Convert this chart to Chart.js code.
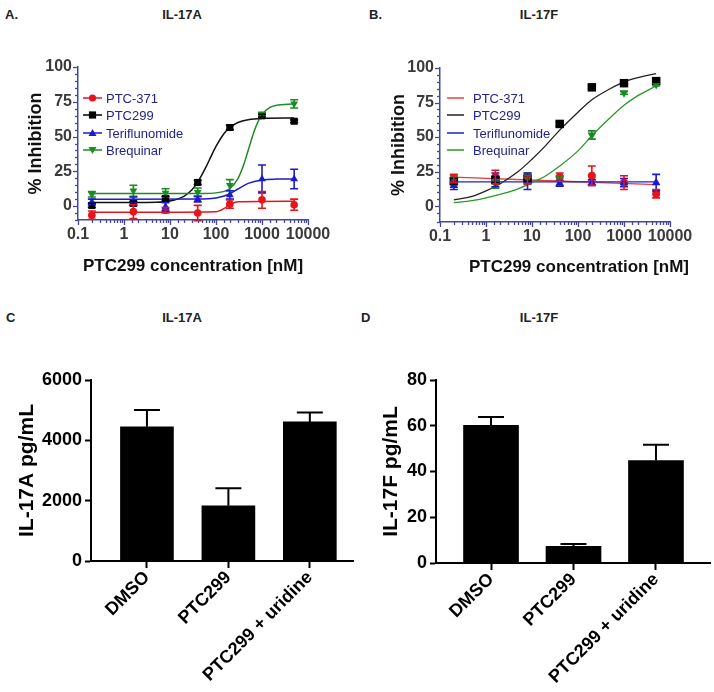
<!DOCTYPE html>
<html><head><meta charset="utf-8">
<script src="https://cdn.jsdelivr.net/npm/chart.js@4.4.0/dist/chart.umd.min.js"></script>
<style>
body{margin:0;background:#fff;width:714px;height:692px;overflow:hidden;position:relative;font-family:"Liberation Sans",Arial,sans-serif;}
canvas{position:absolute;}
.lbl{position:absolute;font-weight:bold;color:#222;white-space:nowrap;font-size:13px;line-height:16px;}
.ctr{transform:translateX(-50%);}
.leg{position:absolute;height:16px;display:flex;align-items:center;font-size:13px;color:#23238c;white-space:nowrap;}
.xt{position:absolute;font-weight:bold;font-size:17px;color:#111;white-space:nowrap;transform:translate(-50%,-50%);}
</style></head><body>

<div class="lbl" style="left:5px;top:7px;">A.</div>
<div class="lbl ctr" style="left:182px;top:7px;">IL-17A</div>
<div class="lbl" style="left:369px;top:7px;">B.</div>
<div class="lbl ctr" style="left:539px;top:7px;">IL-17F</div>
<div class="lbl" style="left:6px;top:310px;">C</div>
<div class="lbl ctr" style="left:182px;top:310px;">IL-17A</div>
<div class="lbl" style="left:361px;top:310px;">D</div>
<div class="lbl ctr" style="left:539px;top:310px;">IL-17F</div>

<canvas id="cA" width="357" height="300" style="left:0;top:0"></canvas>
<canvas id="cB" width="357" height="300" style="left:357px;top:0"></canvas>
<canvas id="cC" width="357" height="362" style="left:0;top:330px"></canvas>
<canvas id="cD" width="357" height="362" style="left:357px;top:330px"></canvas>
<div id="legA"></div><div id="legB"></div>
<div class="xt" style="left:579px;top:267px;">PTC299 concentration [nM]</div>

<script>
// ---------- DATA ----------
const doses = [0.2, 1.6, 8, 40, 200, 1000, 5000];
const seriesNames = ['PTC-371', 'PTC299', 'Teriflunomide', 'Brequinar'];
const percentTicks = [0, 25, 50, 75, 100];

// Panel A (IL-17A) measured points and SEM
const aPTC371 = [-6.5, -4, -3, -5, 1.4, 4.5, 1];
const aPTC371Err = [3, 5, 2, 5.5, 3, 6, 4];
const aPTC299 = [0.5, 2, 5.5, 17, 56.5, 65, 61];
const aPTC299Err = [1.5, 1.5, 1.5, 1.5, 1.5, 1, 1];
const aTeri = [3, 3.5, -0.5, 5, 8, 19.5, 19.5];
const aTeriErr = [2, 3, 3, 2, 3, 10, 7];
const aBreq = [8.5, 11, 9.5, 10, 15, 66, 73.5];
const aBreqErr = [2, 4, 3, 3, 4, 1.5, 3];

// Panel A fitted curves
const aFitPTC371X = [0.2, 100, 130, 150, 170, 190, 220, 300, 5000];
const aFitPTC371Y = [-4.5, -4, -2.8, -1.7, -0.5, 0.6, 1.8, 3.1, 3.5];
const aFitPTC299X = [0.2, 5, 10, 20, 30, 40, 60, 80, 100, 150, 200, 300, 500, 1000, 5000];
const aFitPTC299Y = [2.5, 2.8, 3.7, 7, 11.7, 17.2, 27.8, 36.5, 42.9, 52.2, 56.5, 60.1, 62.1, 63, 63.3];
const aFitTeriX = [0.2, 50, 100, 150, 200, 300, 500, 1000, 2000, 5000];
const aFitTeriY = [5, 5.1, 5.9, 7.2, 8.9, 12.3, 16.3, 18.8, 19.4, 19.5];
const aFitBreqX = [0.2, 50, 100, 150, 200, 300, 400, 500, 700, 1000, 1500, 2000, 5000];
const aFitBreqY = [9, 9.1, 9.5, 10.6, 12.6, 19.8, 29.7, 40, 55.3, 65.8, 71, 72.4, 73.5];

// Panel B (IL-17F) measured points and SEM
const bPTC371 = [20, 21, 19, 21, 22, 17, 9];
const bPTC371Err = [3, 5, 3, 3, 7, 5, 3];
const bPTC299 = [18, 19, 20, 59.5, 86, 89, 90.5];
const bPTC299Err = [2, 2, 2, 1.5, 1, 1, 1];
const bTeri = [15, 19, 18, 16.5, 17, 17, 17];
const bTeriErr = [3, 5, 6, 2, 2, 3, 6];
const bBreq = [19, 16, 20, 20, 51.5, 82, 88];
const bBreqErr = [3, 3, 4, 2, 3, 1, 1];

// Panel B fitted curves
const bFitPTC371X = [0.2, 5000];
const bFitPTC371Y = [21, 15.5];
const bFitPTC299X = [0.2, 0.5, 1, 2, 5, 10, 20, 40, 100, 200, 500, 1000, 2000, 5000];
const bFitPTC299Y = [4.5, 7, 11, 16, 25, 34, 44, 55, 68, 77, 85, 90, 93, 96];
const bFitTeriX = [0.2, 5000];
const bFitTeriY = [17.5, 17.5];
const bFitBreqX = [0.2, 0.5, 1, 2, 5, 10, 20, 40, 100, 200, 500, 1000, 2000, 5000];
const bFitBreqY = [2.5, 4, 6, 8.5, 12.5, 17, 22, 29, 40, 51, 64, 73, 80, 87];

// Panels C and D
const barCats = ['DMSO', 'PTC299', 'PTC299 + uridine'];
const il17a = [4450, 1830, 4610];
const il17aErr = [555, 580, 310];
const il17aTicks = [0, 2000, 4000, 6000];
const il17f = [60.2, 7.3, 44.8];
const il17fErr = [3.6, 1.0, 6.9];
const il17fTicks = [0, 20, 40, 60, 80];

// ---------- HELPERS ----------
const FAM = '"Liberation Sans", Arial, sans-serif';
Chart.defaults.font.family = FAM;
const pts = (xs, ys) => xs.map((x, i) => ({x: x, y: ys[i]}));

const errorBarPlugin = {
  id: 'errbars',
  afterDatasetsDraw(chart) {
    const ctx = chart.ctx;
    chart.data.datasets.forEach((ds, i) => {
      if (!ds.errors) return;
      const meta = chart.getDatasetMeta(i);
      const ys = chart.scales[meta.yAxisID];
      ctx.save();
      ctx.strokeStyle = ds.errorColor || ds.borderColor;
      ctx.lineWidth = ds.errorWidth || 1.5;
      meta.data.forEach((el, j) => {
        const d = ds.data[j];
        const v = typeof d === 'object' ? d.y : d;
        const e = ds.errors[j];
        const x = el.x;
        const yT = ys.getPixelForValue(v + e);
        const yB = ds.upOnly ? ys.getPixelForValue(v) : ys.getPixelForValue(v - e);
        const hw = (ds.capWidth || 8) / 2;
        ctx.beginPath();
        ctx.moveTo(x, yB); ctx.lineTo(x, yT);
        ctx.moveTo(x - hw, yT); ctx.lineTo(x + hw, yT);
        if (!ds.upOnly) { ctx.moveTo(x - hw, yB); ctx.lineTo(x + hw, yB); }
        ctx.stroke();
      });
      ctx.restore();
    });
  }
};

const axisTickPlugin = {
  id: 'axisTicks',
  afterDraw(chart, args, o) {
    if (!o || !o.enabled) return;
    const ctx = chart.ctx, ca = chart.chartArea;
    const xs = chart.scales.x, ys = chart.scales.y;
    ctx.save();
    ctx.strokeStyle = o.color; ctx.lineWidth = o.width;
    xs.ticks.forEach(t => {
      const lg = Math.log10(t.value);
      const major = Math.abs(lg - Math.round(lg)) < 1e-6;
      const px = Math.round(xs.getPixelForValue(t.value)) + 0.5;
      ctx.beginPath(); ctx.moveTo(px, ca.bottom); ctx.lineTo(px, ca.bottom + (major ? o.major : o.minor)); ctx.stroke();
    });
    ys.ticks.forEach(t => {
      const major = percentTicks.includes(t.value);
      const py = Math.round(ys.getPixelForValue(t.value)) + 0.5;
      ctx.beginPath(); ctx.moveTo(ca.left, py); ctx.lineTo(ca.left - (major ? o.major : o.minor), py); ctx.stroke();
    });
    ctx.restore();
  }
};

const COL = {red: '#e8141c', black: '#000000', blue: '#1c1cc8', green: '#1b8c22'};
const AXC = '#4646a8';

function doseChart(id, cfg) {
  const sets = [];
  const ser = [
    {name: seriesNames[3], col: COL.green, y: cfg.breq, e: cfg.breqE, style: 'triangle', rot: 180, r: cfg.r.tri},
    {name: seriesNames[2], col: COL.blue, y: cfg.teri, e: cfg.teriE, style: 'triangle', rot: 0, r: cfg.r.tri},
    {name: seriesNames[1], col: COL.black, y: cfg.ptc299, e: cfg.ptc299E, style: 'rect', rot: 0, r: cfg.r.sq},
    {name: seriesNames[0], col: COL.red, y: cfg.ptc371, e: cfg.ptc371E, style: 'circle', rot: 0, r: cfg.r.ci}
  ];
  ser.forEach(s => sets.push({
    label: s.name, data: pts(doses, s.y), showLine: false,
    pointStyle: s.style, pointRotation: s.rot, pointRadius: s.r,
    backgroundColor: s.col, borderColor: s.col, pointBorderWidth: 0,
    errors: s.e, capWidth: 8, errorWidth: 1.6
  }));
  cfg.fits.forEach(f => sets.push({
    label: f.name + ' fit', data: pts(f.x, f.y), showLine: true, pointRadius: 0,
    borderColor: f.col, borderWidth: cfg.fitWidth, cubicInterpolationMode: 'monotone', fill: false
  }));
  return new Chart(document.getElementById(id), {
    type: 'scatter',
    data: {datasets: sets},
    options: {
      responsive: false, animation: false, devicePixelRatio: 1,
      layout: {padding: {top: cfg.top, right: cfg.right, left: 0, bottom: 0}},
      plugins: {legend: {display: false}, tooltip: {enabled: false},
        axisTicks: {enabled: true, color: AXC, width: 1.3, major: 5, minor: 3}},
      scales: {
        x: {
          type: 'logarithmic', min: 0.1, max: 10000,
          afterFit: s => { s.height = cfg.xh; },
          ticks: {autoSkip: false, maxRotation: 0, minRotation: 0, padding: 0, color: '#3a3a3a',
            font: {size: 16, weight: 'bold'},
            callback: v => { const l = Math.log10(v); return Math.abs(l - Math.round(l)) < 1e-6 ? String(v) : ''; }},
          grid: {display: false, drawTicks: true, tickLength: 5},
          border: {display: true, color: AXC, width: 1.5},
          title: {display: cfg.xTitle, text: 'PTC299 concentration [nM]', color: '#111',
            font: {size: 17, weight: 'bold'}, padding: {top: 0, bottom: 23}}
        },
        y: {
          min: cfg.ymin, max: 100,
          afterFit: s => { s.width = cfg.yw; },
          ticks: {stepSize: 5, autoSkip: false, padding: 1, color: '#3a3a3a', font: {size: 16, weight: 'bold'},
            callback: v => percentTicks.includes(v) ? String(v) : ''},
          grid: {display: false, drawTicks: true, tickLength: 5},
          border: {display: true, color: AXC, width: 1.5},
          title: {display: true, text: '% Inhibition', color: '#111',
            font: {size: 18, weight: 'bold'}, padding: {top: cfg.ytp, bottom: 0}}
        }
      }
    },
    plugins: [errorBarPlugin, axisTickPlugin]
  });
}

doseChart('cA', {
  top: 67, right: 49, xh: 80, yw: 78, ymin: -10, ytp: 25, xTitle: true, fitWidth: 1.5,
  r: {tri: 4.5, sq: 5, ci: 3.8},
  ptc371: aPTC371, ptc371E: aPTC371Err, ptc299: aPTC299, ptc299E: aPTC299Err,
  teri: aTeri, teriE: aTeriErr, breq: aBreq, breqE: aBreqErr,
  fits: [
    {name: seriesNames[3], col: COL.green, x: aFitBreqX, y: aFitBreqY},
    {name: seriesNames[2], col: COL.blue, x: aFitTeriX, y: aFitTeriY},
    {name: seriesNames[1], col: '#111', x: aFitPTC299X, y: aFitPTC299Y},
    {name: seriesNames[0], col: COL.red, x: aFitPTC371X, y: aFitPTC371Y}
  ]
});

doseChart('cB', {
  top: 68, right: 44, xh: 78, yw: 83, ymin: -11.5, ytp: 31, xTitle: false, fitWidth: 1.3,
  r: {tri: 5, sq: 6, ci: 4},
  ptc371: bPTC371, ptc371E: bPTC371Err, ptc299: bPTC299, ptc299E: bPTC299Err,
  teri: bTeri, teriE: bTeriErr, breq: bBreq, breqE: bBreqErr,
  fits: [
    {name: seriesNames[3], col: '#2a9a2a', x: bFitBreqX, y: bFitBreqY},
    {name: seriesNames[2], col: '#2020c8', x: bFitTeriX, y: bFitTeriY},
    {name: seriesNames[1], col: '#222', x: bFitPTC299X, y: bFitPTC299Y},
    {name: seriesNames[0], col: '#e84040', x: bFitPTC371X, y: bFitPTC371Y}
  ]
});

function barChart(id, cfg) {
  return new Chart(document.getElementById(id), {
    type: 'bar',
    data: {datasets: [{
      label: cfg.title, data: cfg.vals.map((v, i) => ({x: i, y: v})),
      backgroundColor: '#000', borderWidth: 0, barThickness: cfg.bw,
      errors: cfg.errs, upOnly: true, capWidth: 26, errorWidth: 2, errorColor: '#000'
    }]},
    options: {
      responsive: false, animation: false, devicePixelRatio: 1,
      layout: {padding: {top: 50, right: 4, left: 0, bottom: 0}},
      plugins: {legend: {display: false}, tooltip: {enabled: false}},
      scales: {
        x: {
          type: 'linear', min: cfg.xmin, max: cfg.xmax, offset: false,
          afterBuildTicks: s => { s.ticks = barCats.map((c, i) => ({value: i})); },
          afterFit: s => { s.height = cfg.xh; },
          ticks: {autoSkip: false, minRotation: 45, maxRotation: 45, padding: -1, color: '#000',
            font: {size: 18, weight: 'bold'}, callback: v => barCats[v]},
          grid: {display: true, drawOnChartArea: false, offset: false, tickLength: 7, tickWidth: 2, tickColor: '#000'},
          border: {display: true, color: '#000', width: 2}
        },
        y: {
          min: 0, max: cfg.ymax,
          afterBuildTicks: s => { s.ticks = cfg.ticks.map(v => ({value: v})); },
          afterFit: s => { s.width = cfg.yw; },
          ticks: {padding: 3, color: '#000', font: {size: 18, weight: 'bold'}, callback: v => String(v)},
          grid: {display: true, drawOnChartArea: false, tickLength: 6, tickWidth: 2, tickColor: '#000'},
          border: {display: true, color: '#000', width: 2},
          title: {display: true, text: cfg.title, color: '#000', font: {size: 21, weight: 'bold'},
            padding: {top: cfg.ytp, bottom: 0}}
        }
      }
    },
    plugins: [errorBarPlugin]
  });
}

barChart('cC', {title: 'IL-17A pg/mL', vals: il17a, errs: il17aErr, ticks: il17aTicks, ymax: 6000,
  bw: 53, xmin: -0.687, xmax: 2.53, xh: 131, yw: 91, ytp: 15});
barChart('cD', {title: 'IL-17F pg/mL', vals: il17f, errs: il17fErr, ticks: il17fTicks, ymax: 80,
  bw: 55, xmin: -0.667, xmax: 2.655, xh: 129, yw: 79, ytp: 22});

// ---------- LEGENDS ----------
function sym(kind, col, withMarker, w) {
  let m = '';
  const c = w / 2;
  if (withMarker) {
    if (kind === 'circle') m = `<circle cx="${c}" cy="8" r="3.6" fill="${col}"/>`;
    if (kind === 'rect') m = `<rect x="${c - 3.6}" y="4.4" width="7.2" height="7.2" fill="${col}"/>`;
    if (kind === 'tri') m = `<polygon points="${c},4 ${c + 4},11 ${c - 4},11" fill="${col}"/>`;
    if (kind === 'itri') m = `<polygon points="${c - 4},5 ${c + 4},5 ${c},12" fill="${col}"/>`;
  }
  return `<svg width="${w}" height="16" style="flex:none"><line x1="0" y1="8" x2="${w}" y2="8" stroke="${col}" stroke-width="1.5"/>${m}</svg>`;
}
const legRowsA = [[98, 'circle', COL.red], [115, 'rect', COL.black], [133, 'tri', COL.blue], [150, 'itri', COL.green]];
legRowsA.forEach((r, i) => {
  const d = document.createElement('div');
  d.className = 'leg';
  d.style.left = '83px'; d.style.top = (r[0] - 8) + 'px';
  d.innerHTML = sym(r[1], r[2], true, 19) + `<span style="margin-left:4px">${seriesNames[i]}</span>`;
  document.getElementById('legA').appendChild(d);
});
const legColsB = ['#e84040', '#222', '#2020c8', '#2a9a2a'];
legRowsA.forEach((r, i) => {
  const d = document.createElement('div');
  d.className = 'leg';
  d.style.left = '447px'; d.style.top = (r[0] - 8) + 'px';
  d.innerHTML = sym(r[1], legColsB[i], false, 17) + `<span style="margin-left:9px">${seriesNames[i]}</span>`;
  document.getElementById('legB').appendChild(d);
});
</script>
</body></html>
